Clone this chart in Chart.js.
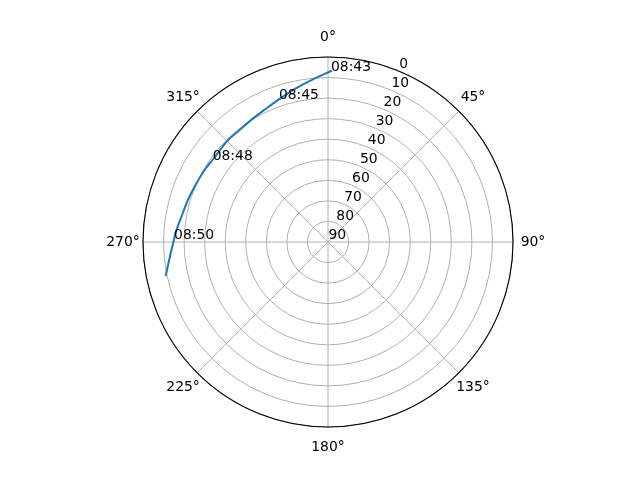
<!DOCTYPE html>
<html>
<head>
<meta charset="utf-8">
<script src="https://cdn.jsdelivr.net/npm/chart.js@4"></script>
<style>
  html, body { margin: 0; padding: 0; background: #ffffff; }
  #wrap { width: 640px; height: 480px; }
</style>
</head>
<body>
<div id="wrap"><canvas id="c" width="640" height="480"></canvas></div>
<script>
// ---- data (azimuth in degrees, elevation in degrees) ----
const trackAzimuth   = [1.0, 354.2, 347.8, 340.8, 334.5, 328.1, 321.0, 314.8, 305.5, 300.5, 294.2, 286.9, 280.0, 273.4, 271.2, 266.0, 258.6];
const trackElevation = [6.8, 10.9, 13.7, 16.6, 18.6, 19.8, 20.6, 20.6, 21.1, 20.5, 19.9, 18.9, 17.7, 15.7, 15.1, 13.3, 9.5];
const timeLabels     = ['08:43', '08:45', '08:48', '08:50'];
const timeAzimuth    = [1.0, 340.8, 305.5, 271.2];
const timeElevation  = [6.8, 16.6, 21.1, 15.1];
const angleTicks     = [0, 45, 90, 135, 180, 225, 270, 315];
const angleTickLabels = ['0°', '45°', '90°', '135°', '180°', '225°', '270°', '315°'];
const radialTicks    = [0, 10, 20, 30, 40, 50, 60, 70, 80, 90];
const radialTickLabels = ['0', '10', '20', '30', '40', '50', '60', '70', '80', '90'];
const radialLabelAzimuth = 22.5;

// ---- angular slots for the radial scale (half-degree resolution) ----
const SLOTS = 720;
const START_AZ = 180;
function slotOf(az) {
  const rel = (((az - START_AZ) % 360) + 360) % 360;
  return Math.round(rel * SLOTS / 360) % SLOTS;
}
const slotLabels = Array.from({length: SLOTS}, (_, i) => String((START_AZ + i * 360 / SLOTS) % 360));
const slotData = new Array(SLOTS).fill(null);
trackAzimuth.forEach((az, k) => { slotData[slotOf(az)] = trackElevation[k]; });
const angleSlots = new Set(angleTicks.map(slotOf));

const FONT = '13.9px "DejaVu Sans"';

const openTrack = {
  id: 'openTrack',
  afterDatasetsUpdate(chart) {
    chart.getSortedVisibleDatasetMetas().forEach(m => {
      if (m.dataset) {
        m.dataset._loop = false;
        m.dataset._pointsUpdated = false;
        delete m.dataset._segments;
        delete m.dataset._path;
      }
    });
  }
};

const polarDecor = {
  id: 'polarDecor',
  beforeDatasetsDraw(chart) {
    const s = chart.scales.r;
    const ctx = chart.ctx;
    ctx.save();
    ctx.strokeStyle = '#000000';
    ctx.lineWidth = 1.1;
    ctx.beginPath();
    ctx.arc(s.xCenter, s.yCenter, s.drawingArea, 0, Math.PI * 2);
    ctx.stroke();
    ctx.fillStyle = '#000000';
    ctx.font = FONT;
    ctx.textAlign = 'center';
    ctx.textBaseline = 'alphabetic';
    angleTicks.forEach((a, k) => {
      const p = s.getPointPosition(slotOf(a), s.drawingArea + 20);
      ctx.fillText(angleTickLabels[k], p.x, p.y + 4);
    });
    ctx.textAlign = 'left';
    const idx = slotOf(radialLabelAzimuth);
    radialTicks.forEach((v, k) => {
      const p = s.getPointPositionForValue(idx, v);
      ctx.fillText(radialTickLabels[k], p.x + 0.5, p.y - 3.2);
    });
    ctx.restore();
  },
  afterDatasetsDraw(chart) {
    const s = chart.scales.r;
    const ctx = chart.ctx;
    ctx.save();
    ctx.fillStyle = '#000000';
    ctx.font = FONT;
    ctx.textAlign = 'left';
    ctx.textBaseline = 'alphabetic';
    timeLabels.forEach((t, k) => {
      const p = s.getPointPositionForValue(slotOf(timeAzimuth[k]), timeElevation[k]);
      ctx.fillText(t, p.x, p.y);
    });
    ctx.restore();
  }
};

new Chart(document.getElementById('c'), {
  type: 'radar',
  data: {
    labels: slotLabels,
    datasets: [{
      data: slotData,
      spanGaps: true,
      fill: false,
      borderColor: '#1f77b4',
      borderWidth: 2,
      borderCapStyle: 'square',
      borderJoinStyle: 'round',
      tension: 0.3,
      pointRadius: 0,
      pointHoverRadius: 0
    }]
  },
  options: {
    responsive: false,
    animation: false,
    devicePixelRatio: 1,
    layout: { padding: { top: 57, bottom: 53, left: 16, right: 0 } },
    plugins: { legend: { display: false }, tooltip: { enabled: false } },
    events: [],
    scales: {
      r: {
        startAngle: START_AZ,
        min: 0,
        max: 90,
        reverse: true,
        ticks: { stepSize: 10, display: false, reverse: true },
        grid: { circular: true, color: '#b0b0b0', lineWidth: 1 },
        angleLines: {
          display: true,
          color: (c) => angleSlots.has(c.index) ? '#b0b0b0' : 'rgba(0,0,0,0)',
          lineWidth: (c) => angleSlots.has(c.index) ? 1 : 0
        },
        pointLabels: { display: false }
      }
    }
  },
  plugins: [openTrack, polarDecor]
});
</script>
</body>
</html>
